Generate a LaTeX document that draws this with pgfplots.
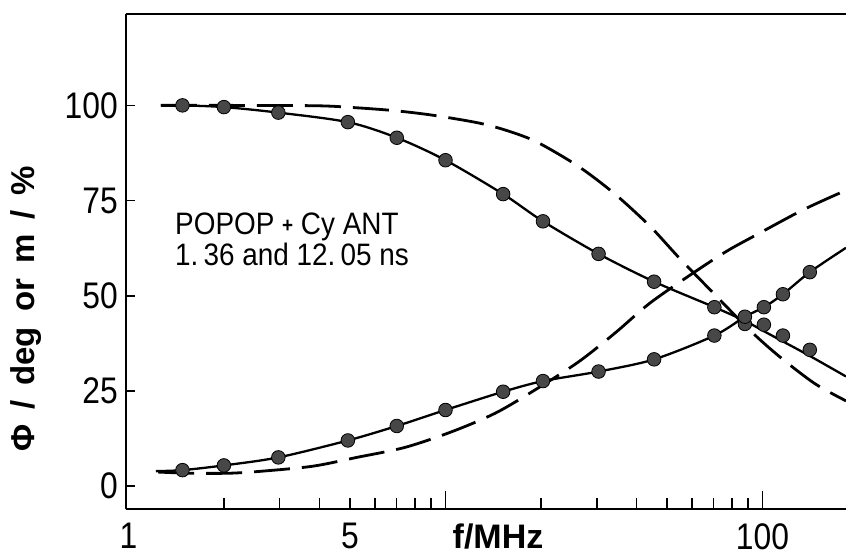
\documentclass[border=0pt]{standalone}
\usepackage{fontspec}
\setmainfont{Liberation Sans}
\newfontfamily\narrow{Liberation Sans}[FakeStretch=0.86]
\newfontfamily\annot{Liberation Sans}[FakeStretch=0.9]
\usepackage{pgfplots}
\pgfplotsset{compat=1.18}
\usetikzlibrary{calc}

\begin{document}
\begin{tikzpicture}
\begin{axis}[
  name=ax,
  scale only axis,
  width=720pt, height=495pt,
  xmode=log,
  xmin=0.982, xmax=183.4,
  ymin=-6, ymax=124,
  axis x line=box,
  axis y line=left,
  axis line style={line width=2pt, -},
  xtick pos=left, ytick pos=left,
  tick align=inside,
  major tick length=18pt,
  minor tick length=11pt,
  tick style={line width=1.5pt, black},
  xtick={10,100},
  xticklabels={,100},
  minor xtick={2,3,4,5,6,7,8,9,20,30,40,50,60,70,80,90},
  extra x ticks={1,5},
  extra x tick labels={1,5},
  extra x tick style={major tick length=0pt},
  ytick=\empty,
  extra y ticks={0,25,50,75,100},
  extra y tick labels={0,25,50,75,100},
  extra y tick style={major tick length=9pt},
  xticklabel style={font=\narrow\fontsize{37}{40}\selectfont, inner sep=0pt, anchor=north, yshift=-14pt},
  yticklabel style={font=\narrow\fontsize{37}{40}\selectfont, inner sep=0pt, anchor=east, xshift=-8pt},
  clip=false,
]
% upper solid
\addplot[black, line width=2.3pt, smooth] coordinates {(1.266,100) (1.48,100) (2.0,99.55) (2.97,98.1) (4.92,95.6) (7.02,91.5) (10.0,85.6) (15.2,76.7) (20.3,69.55) (30.4,61.0) (45.5,53.7) (70.5,47.0) (88,43.4) (101,40.7) (116,38.0) (141,34.2) (183.4,28.8)};
% lower solid
\addplot[black, line width=2.3pt, smooth] coordinates {(1.221,3.95) (1.48,4.21) (2.0,5.45) (2.97,7.55) (4.92,12.0) (7.02,15.8) (10.0,20.0) (15.2,24.8) (20.3,27.6) (30.4,30.1) (45.5,33.3) (70.5,39.55) (88,44.5) (101,47.0) (116,50.4) (141,56.2) (183.4,62.6)};
% upper dashed
\addplot[black, line width=2.8pt, smooth, dash pattern=on 36pt off 12pt] coordinates {(1.266,100) (2.0,100) (3.92,99.9) (5.18,99.4) (6.93,98.6) (9.15,97.4) (12.69,95.4) (15.6,93.4) (19.4,90.4) (26.24,84.0) (34.25,76.7) (44.18,68.25) (54.25,60.2) (68.31,51.6) (91.33,40.9) (113.6,33.9) (146.4,26.9) (183.4,22.4)};
% lower dashed
\addplot[black, line width=2.8pt, smooth, dash pattern=on 36pt off 12pt] coordinates {(1.24,3.7) (1.56,3.4) (2.09,3.4) (2.7,4.0) (3.83,5.26) (5.25,7.55) (7.45,10.18) (10.46,14.29) (14.33,19.13) (19.15,25.26) (26.24,32.6) (34.25,40.2) (44.18,48.1) (60.48,56.0) (77.1,61.7) (95.9,66.05) (134.5,72.6) (183.4,77.7)};
% upper dots
\addplot[only marks, mark=*, mark size=6.8pt, mark options={fill=black!72, draw=black, line width=0.8pt}] coordinates {(1.48,100.0) (2.0,99.55) (2.97,98.1) (4.92,95.6) (7.02,91.5) (10.0,85.6) (15.2,76.7) (20.3,69.55) (30.4,61.0) (45.5,53.7) (70.5,47.0) (88,42.6) (101,42.4) (116,39.55) (141,35.8)};
% lower dots
\addplot[only marks, mark=*, mark size=6.8pt, mark options={fill=black!72, draw=black, line width=0.8pt}] coordinates {(1.48,4.21) (2.0,5.45) (2.97,7.55) (4.92,12.0) (7.02,15.8) (10.0,20.0) (15.2,24.8) (20.3,27.6) (30.4,30.1) (45.5,33.3) (70.5,39.55) (88,44.5) (101,47.0) (116,50.4) (141,56.2)};

\node[anchor=base west, inner sep=0pt, font=\annot\fontsize{31}{36}\selectfont] at (axis cs:1.402,66.05) {POPOP \raisebox{2pt}{\fontsize{21}{21}\selectfont\bfseries +} Cy ANT};
\node[anchor=base west, inner sep=0pt, font=\annot\fontsize{31}{36}\selectfont] at (axis cs:1.402,57.9) {1.\,36 and 12.\,05 ns};
\node[anchor=base, inner sep=0pt, font=\bfseries\fontsize{34}{38}\selectfont] at (axis description cs:0.5167,-0.0808) {f/MHz};
\node[rotate=90, inner sep=0pt, font=\bfseries\fontsize{33}{36}\selectfont] at (axis description cs:-0.1389,0.404) {Φ\hspace{15pt}/\hspace{15pt}deg\hspace{15pt}or\hspace{15pt}m\hspace{15pt}/\hspace{15pt}\%};
\end{axis}
\pgfresetboundingbox
\path[use as bounding box] ($(ax.south west)+(-126pt,-48pt)$) rectangle ($(ax.north east)+(0pt,14pt)$);
\end{tikzpicture}
\end{document}
